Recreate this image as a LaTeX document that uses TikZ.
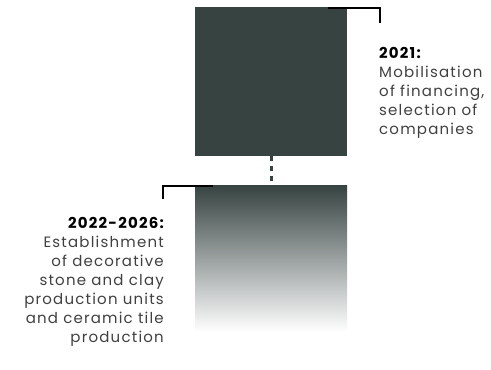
\documentclass[tikz,border=0pt]{standalone}
\usepackage{fontspec}
\setmainfont{Poppins}[LetterSpace=8]
\usetikzlibrary{positioning}
\definecolor{boxdark}{HTML}{364341}
\definecolor{textgrey}{HTML}{404040}

\begin{document}
\begin{tikzpicture}[
        x=1pt,y=-1pt,
        phase/.style={rectangle,minimum width=152pt,inner sep=0pt,outer sep=0pt},
        bracket/.style={line width=2pt,black},
        link/.style={boxdark,line width=3pt,dash pattern=on 5pt off 5pt},
        label/.style={font=\fontsize{15}{19}\selectfont,text=textgrey,inner sep=0pt}
    ]
        \useasboundingbox (0,0) rectangle (491,370);

        % the two phases
        \node[phase,fill=boxdark,minimum height=149pt] (p2021) at (271,81.5) {};
        \node[phase,top color=boxdark,bottom color=white,minimum height=147pt] (p2022) at (271,258.5) {};

        \draw[link] (p2021.south) -- (p2022.north);

        % corner brackets
        \coordinate (b2021) at ([xshift=-19pt,yshift=-1pt]p2021.north east);
        \coordinate (e2021) at (379.5,23);
        \draw[bracket] (b2021) -| (e2021);
        \coordinate (b2022) at ([xshift=18pt,yshift=-1pt]p2022.north west);
        \coordinate (e2022) at (163,199);
        \draw[bracket] (b2022) -| (e2022);

        % labels
        \node[label,anchor=north west,align=left] (t2021) at (379,47)
            {\textbf{\color{black}2021:}\\Mobilisation\\of financing,\\selection of\\companies};
        \node[label,anchor=north east,align=right] (t2022) at (164,217)
            {\textbf{\color{black}2022-2026:}\\Establishment\\of decorative\\stone and clay\\production units\\and ceramic tile\\production};
    \end{tikzpicture}
\end{document}
